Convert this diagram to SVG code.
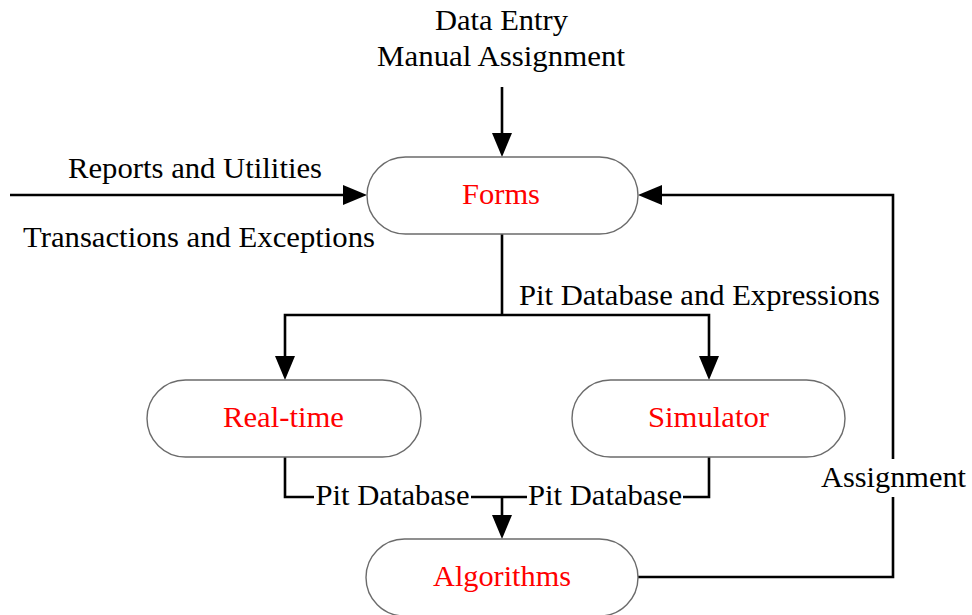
<svg xmlns="http://www.w3.org/2000/svg" width="972" height="615" viewBox="0 0 972 615">
  <defs>
    <marker id="arrow" markerUnits="userSpaceOnUse" markerWidth="24" markerHeight="20" refX="0" refY="10" orient="auto" overflow="visible">
      <path d="M0,0 L24,10 L0,20 Z" fill="#000"/>
    </marker>
  </defs>
  <style>
    text { font-family: 'Liberation Serif', 'DejaVu Serif', 'Times New Roman', Times, serif; font-size: 30px; text-anchor: middle; }
    .node rect { fill: #fff; stroke: #6b6b6b; stroke-width: 1.4; }
    .node text { fill: #ff0000; }
    .label { fill: #000; }
    .conn { fill: none; stroke: #000; stroke-width: 2.6; }
    .arr { marker-end: url(#arrow); }
  </style>
  <rect width="972" height="615" fill="#fff"/>

  <!-- connectors -->
  <g id="connectors">
    <line class="conn arr" x1="502" y1="87" x2="502" y2="133"/>
    <line class="conn arr" x1="10" y1="195" x2="343" y2="195"/>
    <polyline class="conn" points="502,234 502,315"/>
    <polyline class="conn arr" points="502,315 285,315 285,356"/>
    <polyline class="conn arr" points="502,315 709,315 709,356"/>
    <polyline class="conn" points="285,457 285,497 314,497"/>
    <line class="conn" x1="471" y1="497" x2="527" y2="497"/>
    <polyline class="conn" points="683,497 709,497 709,457"/>
    <line class="conn arr" x1="502" y1="497" x2="502" y2="515"/>
    <polyline class="conn" points="638,577 893,577 893,497"/>
    <polyline class="conn arr" points="893,459 893,195 662,195"/>
  </g>

  <!-- connector labels -->
  <g id="labels">
    <text class="label" x="501.5" y="30" textLength="133" lengthAdjust="spacingAndGlyphs">Data Entry</text>
    <text class="label" x="501" y="66" textLength="248" lengthAdjust="spacingAndGlyphs">Manual Assignment</text>
    <text class="label" x="195" y="178" textLength="254" lengthAdjust="spacingAndGlyphs">Reports and Utilities</text>
    <text class="label" x="199" y="247" textLength="352" lengthAdjust="spacingAndGlyphs">Transactions and Exceptions</text>
    <text class="label" x="699.5" y="305" textLength="361" lengthAdjust="spacingAndGlyphs">Pit Database and Expressions</text>
    <text class="label" x="392.5" y="505" textLength="154" lengthAdjust="spacingAndGlyphs">Pit Database</text>
    <text class="label" x="605" y="505" textLength="154" lengthAdjust="spacingAndGlyphs">Pit Database</text>
    <text class="label" x="893.5" y="487" textLength="145" lengthAdjust="spacingAndGlyphs">Assignment</text>
  </g>

  <!-- nodes -->
  <g id="forms" class="node">
    <rect x="367" y="157" width="271" height="77" rx="38.5" ry="38.5"/>
    <text x="501" y="204" textLength="78" lengthAdjust="spacingAndGlyphs">Forms</text>
  </g>
  <g id="realtime" class="node">
    <rect x="147" y="380" width="274" height="77" rx="38.5" ry="38.5"/>
    <text x="283.5" y="427" textLength="121" lengthAdjust="spacingAndGlyphs">Real-time</text>
  </g>
  <g id="simulator" class="node">
    <rect x="572" y="380" width="273" height="77" rx="38.5" ry="38.5"/>
    <text x="708.5" y="427" textLength="121" lengthAdjust="spacingAndGlyphs">Simulator</text>
  </g>
  <g id="algorithms" class="node">
    <rect x="366" y="539" width="272" height="77" rx="38.5" ry="38.5"/>
    <text x="502" y="586" textLength="138" lengthAdjust="spacingAndGlyphs">Algorithms</text>
  </g>
</svg>
